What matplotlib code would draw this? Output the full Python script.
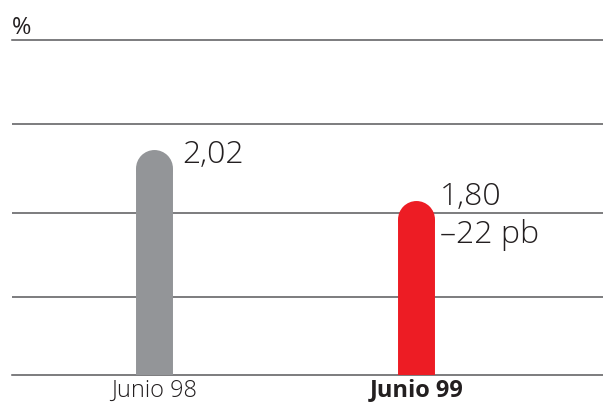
import matplotlib
matplotlib.use("Agg")
import matplotlib.pyplot as plt

categories = ["Junio 98", "Junio 99"]
values = [2.02, 1.80]
value_labels = ["2,02", "1,80"]
change_label = "\u201322 pb"
unit_label = "%"
colors = ["#939598", "#ed1c24"]

plt.rcParams["font.family"] = ["Open Sans", "DejaVu Sans"]
text_color = "#231f20"
line_color = "#58595b"

fig = plt.figure(figsize=(6.03, 4.03), dpi=100)
ax = fig.add_axes([12 / 603, 28 / 403, 591 / 603, 335 / 403])
ax.set_xlim(-0.544, 1.713)
ax.set_ylim(1.125, 2.57)

bar_pt = 26.6  # bar thickness in points
x = list(range(len(categories)))
y0 = ax.get_ylim()[0]
for xi, v, c in zip(x, values, colors):
    ax.vlines(xi, y0, v, colors=c, linewidth=bar_pt, capstyle="butt", zorder=3)
    ax.plot([xi], [v], marker="o", ms=bar_pt, mew=0, color=c, zorder=3)

# horizontal rules
for gy in [1.461, 1.824, 2.208]:
    ax.axhline(gy, color=line_color, lw=1.1, zorder=1)
for s in ["left", "right"]:
    ax.spines[s].set_visible(False)
for s in ["top", "bottom"]:
    ax.spines[s].set_color(line_color)
    ax.spines[s].set_linewidth(1.1)
ax.set_yticks([])
ax.set_xticks(x)
ax.set_xticklabels(categories, fontsize=17, color=text_color, fontweight=300)
ax.get_xticklabels()[1].set_fontweight("bold")
ax.tick_params(axis="x", length=0, pad=2.5)

# value annotations
label_kw = dict(textcoords="offset points", fontsize=23, color=text_color,
                ha="left", va="baseline", fontweight=300)
ax.annotate(value_labels[0], (x[0], values[0]), xytext=(20, 3.2), **label_kw)
ax.annotate(value_labels[1], (x[1], values[1]), xytext=(17, 9.7), **label_kw)
ax.annotate(change_label, (x[1], values[1]), xytext=(17, -17.6), **label_kw)

fig.text(12 / 603, 1 - 28 / 403, unit_label, fontsize=17, color=text_color,
         ha="left", va="center")

fig.savefig("out.png", dpi=100)
